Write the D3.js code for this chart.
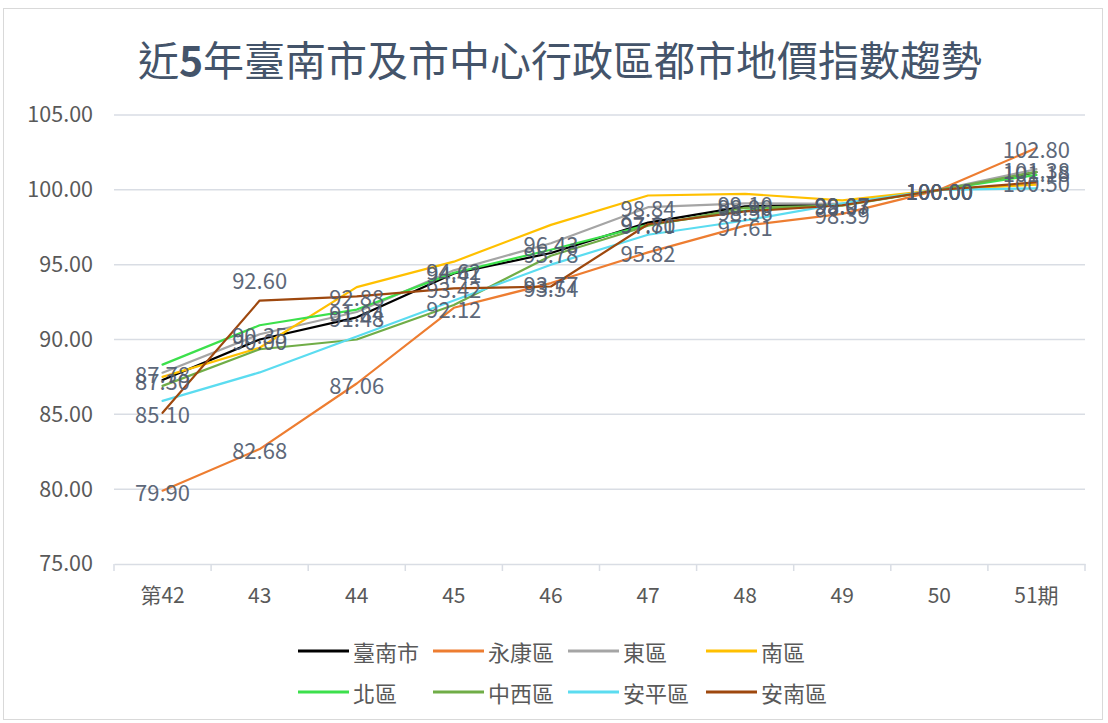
<!DOCTYPE html>
<html><head><meta charset="utf-8">
<script src="https://cdn.jsdelivr.net/npm/d3@7"></script>
<style>
html,body{margin:0;padding:0;background:#fff;}
svg{display:block;font-family:"Noto Sans CJK TC","Noto Sans",sans-serif;}
</style></head>
<body><svg id="c" width="1108" height="723"></svg>
<script>
const titleParts = [["近",400],["5",700],["年臺南市及市中心行政區都市地價指數趨勢",400]];
const categories = ["第42","43","44","45","46","47","48","49","50","51期"];
const yTicks = [75,80,85,90,95,100,105];
const seriesNames = ["臺南市","永康區","東區","南區","北區","中西區","安平區","安南區"];
const seriesColors = ["#000000","#ED7D31","#A5A5A5","#FFC000","#3CE04C","#70AD47","#5BDCF0","#9E480E"];
const tainan   = [87.30, 90.00, 91.48, 94.41, 95.78, 97.81, 98.90, 99.03, 100.00, 101.18];
const yongkang = [79.90, 82.68, 87.06, 92.12, 93.77, 95.82, 97.61, 98.39, 100.00, 102.80];
const east     = [87.78, 90.35, 91.84, 94.62, 96.43, 98.84, 99.10, 99.07, 100.00, 101.38];
const south    = [87.50, 89.45, 93.50, 95.20, 97.66, 99.62, 99.73, 99.30, 100.00, 100.35];
const north    = [88.32, 90.95, 92.00, 94.45, 96.00, 97.66, 98.62, 99.00, 100.00, 101.00];
const westCentral = [86.90, 89.35, 90.00, 92.30, 95.60, 97.60, 98.80, 98.95, 100.00, 101.20];
const anping   = [85.90, 87.80, 90.20, 92.60, 95.00, 97.00, 97.95, 99.10, 100.00, 100.10];
const annan    = [85.10, 92.60, 92.88, 93.42, 93.54, 97.70, 98.56, 98.97, 100.00, 100.50];
const seriesValues = [tainan, yongkang, east, south, north, westCentral, anping, annan];
const labeledSeries = ["臺南市","永康區","東區","安南區"];

const svg = d3.select("#c");
svg.append("rect").attr("x",3.5).attr("y",8.5).attr("width",1099).attr("height",711)
  .attr("fill","#fff").attr("stroke","#d9d9d9").attr("stroke-width",1);

const x = d3.scaleBand().domain(categories).range([114,1085]).padding(0);
const y = d3.scaleLinear().domain([75,105]).range([564,115]);
const cx = c => x(c) + x.bandwidth()/2;

// title
const t = svg.append("text").attr("x",560).attr("y",76).attr("text-anchor","middle")
  .attr("font-size",41).attr("fill","#44546a");
titleParts.forEach(p=>t.append("tspan").attr("font-weight",p[1]).text(p[0]));

// gridlines
svg.append("g").selectAll("line").data(yTicks.filter(t=>t>75)).join("line")
  .attr("x1",114).attr("x2",1085).attr("y1",d=>y(d)).attr("y2",d=>y(d))
  .attr("stroke","#d9dde4").attr("stroke-width",1.5);

// y axis labels
const ya = svg.append("g").attr("transform","translate(114,0)")
  .call(d3.axisLeft(y).tickValues(yTicks).tickFormat(d3.format(".2f")).tickSize(0).tickPadding(21));
ya.select(".domain").remove();
ya.selectAll("text").attr("font-size",21.5).attr("fill","#595959")
  .attr("font-family","'Noto Sans CJK TC','Noto Sans',sans-serif");

// x axis
const xa = svg.append("g").attr("transform","translate(0,564)")
  .call(d3.axisBottom(x).tickSize(0).tickPadding(24));
xa.select(".domain").attr("stroke","#d9dde4").attr("stroke-width",1.5);
xa.selectAll("text").attr("font-size",21).attr("fill","#595959")
  .attr("font-family","'Noto Sans CJK TC','Noto Sans',sans-serif");
const bounds = categories.map(c=>x(c)).concat([x(categories[categories.length-1])+x.bandwidth()]);
svg.append("g").selectAll("line").data(bounds).join("line")
  .attr("x1",d=>d).attr("x2",d=>d).attr("y1",564).attr("y2",571)
  .attr("stroke","#d9dde4").attr("stroke-width",1.5);

// lines
const line = d3.line().x((d,i)=>cx(categories[i])).y(d=>y(d));
const lg = svg.append("g");
seriesNames.forEach((n,k)=>{
  lg.append("path").attr("d",line(seriesValues[k])).attr("fill","none")
    .attr("stroke",seriesColors[k]).attr("stroke-width",2.2)
    .attr("stroke-linejoin","round").attr("stroke-linecap","round");
});

// data labels
const labG = svg.append("g");
seriesNames.forEach((n,k)=>{
  if(!labeledSeries.includes(n)) return;
  seriesValues[k].forEach((v,i)=>{
    let dy = 0;
    if(n==="安南區" && i===1) dy = -22; // label pushed above in reference
    labG.append("text").attr("x",cx(categories[i])).attr("y",y(v)+dy)
      .attr("text-anchor","middle").attr("dominant-baseline","central")
      .attr("font-size",22).attr("fill","#515c6f").attr("opacity",0.92)
      .text(d3.format(".2f")(v));
  });
});

// legend
const legX = [298,433,568,706];
const legY = [651,692];
seriesNames.forEach((n,k)=>{
  const lx = legX[k%4], ly = legY[Math.floor(k/4)];
  svg.append("line").attr("x1",lx).attr("x2",lx+51).attr("y1",ly).attr("y2",ly)
    .attr("stroke",seriesColors[k]).attr("stroke-width",3);
  svg.append("text").attr("x",lx+55).attr("y",ly).attr("dominant-baseline","central")
    .attr("font-size",22).attr("fill","#595959").text(n);
});
</script></body></html>
